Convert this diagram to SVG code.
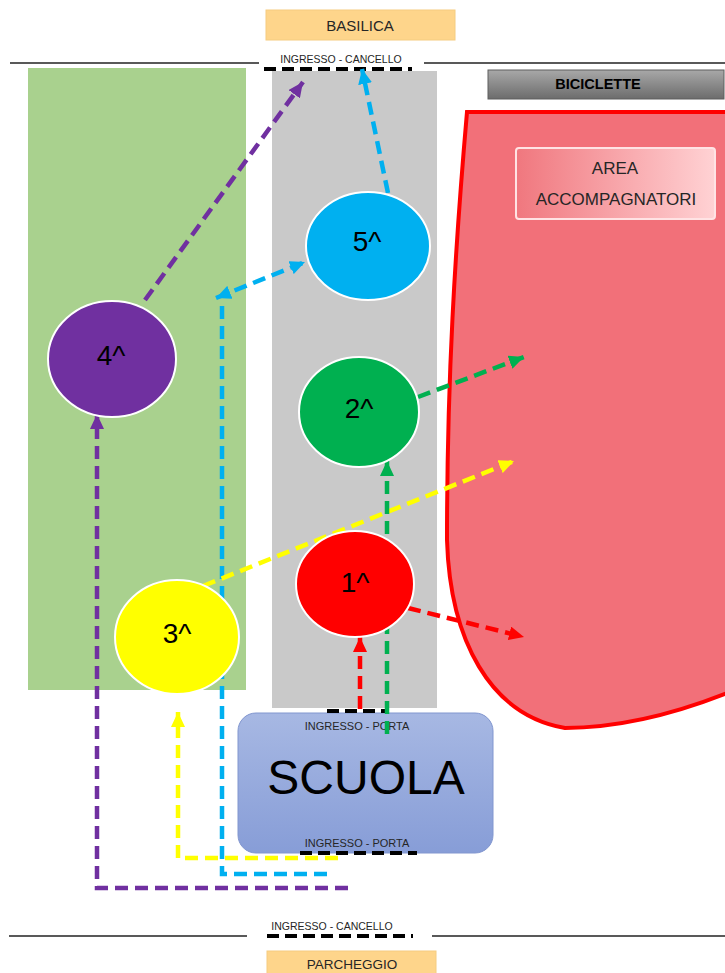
<svg xmlns="http://www.w3.org/2000/svg" width="725" height="973" viewBox="0 0 725 973">
<defs>
<style>
.lbl{font-family:"Liberation Sans",Arial,sans-serif;fill:#262626;text-anchor:middle}
.num{font-family:"Liberation Sans",Arial,sans-serif;font-size:28px;fill:#000;text-anchor:middle}
.conn{fill:none;stroke-width:4.5;stroke-dasharray:13 7}
.door{fill:none;stroke:#000;stroke-width:4;stroke-dasharray:12 6}
.wall{stroke:#222;stroke-width:1.5}
.node{stroke:#fff;stroke-width:2}
</style>
<linearGradient id="gBici" x1="0" y1="0" x2="0" y2="1"><stop offset="0" stop-color="#a8a8a8"/><stop offset="1" stop-color="#6c6c6c"/></linearGradient>
<linearGradient id="gArea" x1="0" y1="0" x2="1" y2="0"><stop offset="0" stop-color="#f0777e"/><stop offset="1" stop-color="#ffd2d4"/></linearGradient>
<linearGradient id="gScuola" x1="0" y1="0" x2="0" y2="1"><stop offset="0" stop-color="#a7b8e3"/><stop offset="1" stop-color="#879dd7"/></linearGradient>
<marker id="aP" markerUnits="userSpaceOnUse" markerWidth="16" markerHeight="14" refX="15" refY="7" orient="auto-start-reverse"><path d="M0,0 L15,7 L0,14 z" fill="#7030a0"/></marker>
<marker id="aC" markerUnits="userSpaceOnUse" markerWidth="16" markerHeight="14" refX="15" refY="7" orient="auto-start-reverse"><path d="M0,0 L15,7 L0,14 z" fill="#00b0f0"/></marker>
<marker id="aY" markerUnits="userSpaceOnUse" markerWidth="16" markerHeight="14" refX="15" refY="7" orient="auto-start-reverse"><path d="M0,0 L15,7 L0,14 z" fill="#ffff00"/></marker>
<marker id="aG" markerUnits="userSpaceOnUse" markerWidth="16" markerHeight="14" refX="15" refY="7" orient="auto-start-reverse"><path d="M0,0 L15,7 L0,14 z" fill="#00b050"/></marker>
<marker id="aR" markerUnits="userSpaceOnUse" markerWidth="16" markerHeight="14" refX="15" refY="7" orient="auto-start-reverse"><path d="M0,0 L15,7 L0,14 z" fill="#ff0000"/></marker>
</defs>
<rect width="725" height="973" fill="#fff"/>

<g id="basilica">
<rect x="266" y="10" width="189" height="30" fill="#fed58b" stroke="#f5cc80" stroke-width="1"/>
<text class="lbl" x="360" y="31" font-size="15">BASILICA</text>
</g>

<g id="top-boundary">
<line class="wall" x1="10" y1="63" x2="259" y2="63"/>
<line class="wall" x1="424" y1="63" x2="725" y2="63"/>
<text class="lbl" x="341" y="63" font-size="10.5">INGRESSO - CANCELLO</text>
<line class="door" x1="264" y1="69" x2="412" y2="69"/>
</g>

<g id="green-area"><rect x="28" y="68" width="218" height="622" fill="#a9d18e"/></g>
<g id="grey-area"><rect x="272" y="71" width="165" height="637" fill="#c9c9c9"/></g>

<g id="biciclette">
<rect x="488" y="70" width="236" height="29" fill="url(#gBici)" stroke="#5f5f5f" stroke-width="1"/>
<text x="598" y="89" font-family="Liberation Sans,Arial,sans-serif" font-size="14.5" font-weight="bold" fill="#000" text-anchor="middle">BICICLETTE</text>
</g>

<g id="area-accompagnatori">
<path d="M467,112 L730,112 L730,692 C680,712 620,728 565,728 C490,715 450,640 447,540 C447,380 455,250 467,112 Z" fill="#f27079" stroke="#ff0000" stroke-width="4"/>
<rect x="516" y="148" width="199" height="71" rx="3" fill="url(#gArea)" stroke="#ffe3e4" stroke-width="2"/>
<text class="lbl" x="615" y="174" font-size="17" fill="#1a1a1a">AREA</text>
<text class="lbl" x="616" y="205" font-size="17" fill="#1a1a1a">ACCOMPAGNATORI</text>
</g>

<g id="scuola">
<rect x="238" y="713" width="255" height="140" rx="18" fill="url(#gScuola)" stroke="#8196cf" stroke-width="1"/>
<text x="366" y="794" font-family="Liberation Sans,Arial,sans-serif" font-size="48" fill="#000" text-anchor="middle">SCUOLA</text>
<text class="lbl" x="357" y="730" font-size="11">INGRESSO - PORTA</text>
<line class="door" x1="327" y1="711" x2="389" y2="711" stroke-dasharray="14 6"/>
<text class="lbl" x="357" y="847" font-size="11">INGRESSO - PORTA</text>
<line class="door" x1="300" y1="853" x2="417" y2="853" stroke-dasharray="16 6"/>
</g>

<g id="connectors">
<path class="conn" stroke="#7030a0" d="M348,888 L97,888 L97,414" marker-end="url(#aP)"/>
<path class="conn" stroke="#7030a0" d="M145,300 L303,82" marker-end="url(#aP)"/>
<path class="conn" stroke="#00b0f0" d="M327,874 L222,874 L222,306"/>
<path class="conn" stroke="#00b0f0" d="M216,298 L305,262" marker-start="url(#aC)" marker-end="url(#aC)"/>
<path class="conn" stroke="#00b0f0" d="M388,193 L362,69" marker-end="url(#aC)"/>
<path class="conn" stroke="#ffff00" d="M338,858 L178,858 L178,712" marker-end="url(#aY)"/>
<path class="conn" stroke="#ffff00" d="M203,586 L514,461" marker-end="url(#aY)"/>
<path class="conn" stroke="#00b050" d="M387,734 L387,461" marker-end="url(#aG)"/>
<path class="conn" stroke="#00b050" d="M418,397 L524,357" marker-end="url(#aG)"/>
<path class="conn" stroke="#ff0000" d="M360,709 L360,637" marker-end="url(#aR)"/>
<path class="conn" stroke="#ff0000" d="M408,608 L524,637" marker-end="url(#aR)"/>
</g>

<g id="n5"><ellipse class="node" cx="368" cy="246" rx="62" ry="54" fill="#00b0f0"/><text class="num" x="367" y="251">5^</text></g>
<g id="n4"><ellipse class="node" cx="112" cy="359" rx="64" ry="58" fill="#7030a0"/><text class="num" x="111" y="365">4^</text></g>
<g id="n2"><ellipse class="node" cx="359" cy="412" rx="60" ry="55" fill="#00b050"/><text class="num" x="359" y="418">2^</text></g>
<g id="n1"><ellipse class="node" cx="355" cy="584" rx="59" ry="53" fill="#ff0000"/><text class="num" x="355" y="592">1^</text></g>
<g id="n3"><ellipse class="node" cx="177" cy="637" rx="62" ry="57" fill="#ffff00"/><text class="num" x="177" y="643">3^</text></g>

<g id="bottom-boundary">
<line class="wall" x1="9" y1="936" x2="247" y2="936"/>
<line class="wall" x1="432" y1="936" x2="725" y2="936"/>
<text class="lbl" x="332" y="930" font-size="10.5">INGRESSO - CANCELLO</text>
<line class="door" x1="267" y1="936" x2="413" y2="936"/>
</g>

<g id="parcheggio">
<rect x="267" y="951" width="169" height="30" fill="#fed58b" stroke="#f5cc80" stroke-width="1"/>
<text class="lbl" x="352" y="969" font-size="13.5">PARCHEGGIO</text>
</g>
</svg>
